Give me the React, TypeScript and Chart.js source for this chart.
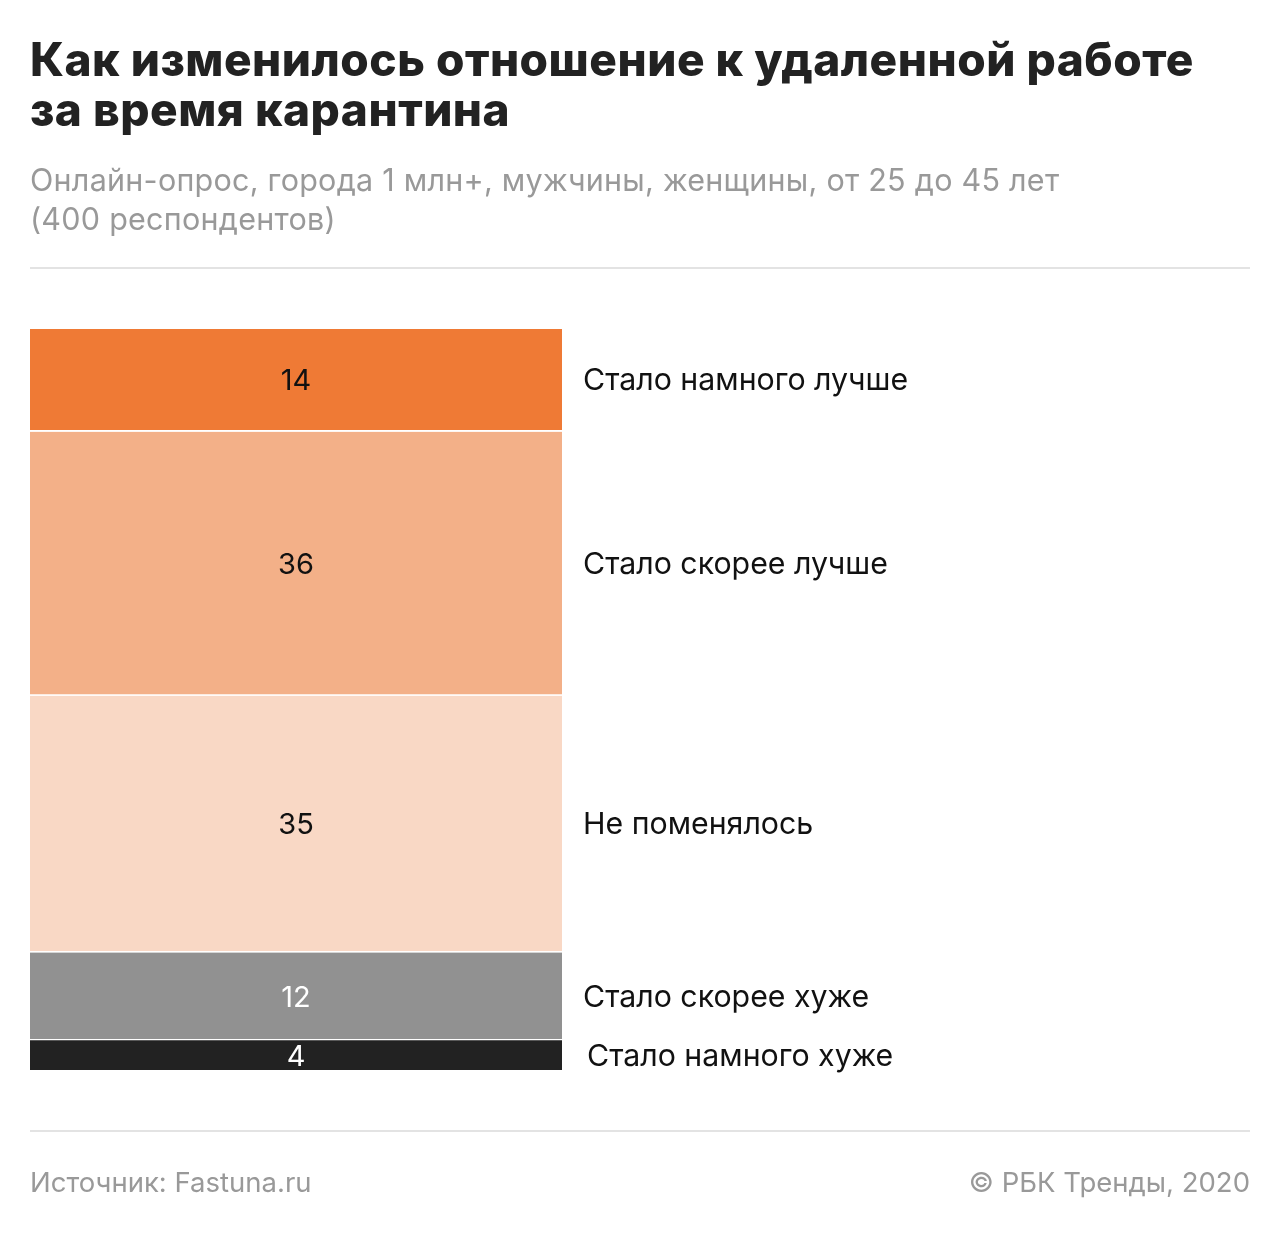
import React, { useEffect, useRef } from "react";
import { Chart, registerables } from "chart.js";

Chart.register(...registerables);

const categories = ["Стало намного хуже", "Стало скорее хуже", "Не поменялось", "Стало скорее лучше", "Стало намного лучше"];
const values = [4, 12, 35, 36, 14];
const colors = ["#222222", "#919191", "#F9D8C5", "#F3B088", "#EF7A35"];
const valueColors = ["#ffffff", "#ffffff", "#111111", "#111111", "#111111"];
const labelOffsets = [25, 21, 21, 21, 21];

const FONT = "Inter, Roboto, 'Noto Sans', sans-serif";

const labelPlugin = {
  id: "segLabels",
  afterDatasetsDraw(chart: any) {
    const ctx = chart.ctx;
    ctx.save();
    chart.data.datasets.forEach((ds: any, i: number) => {
      const el = chart.getDatasetMeta(i).data[0] as any;
      if (!el) return;
      const top = Math.min(el.y, el.base);
      const bottom = Math.max(el.y, el.base);
      const cy = (top + bottom) / 2 + (i === 0 ? 0 : -1);
      const by = cy + 11;
      ctx.textBaseline = "alphabetic";
      ctx.font = `29px ${FONT}`;
      ctx.fillStyle = valueColors[i];
      ctx.textAlign = "center";
      ctx.fillText(String(values[i]), el.x, by);
      ctx.fillStyle = "#111111";
      ctx.textAlign = "left";
      ctx.font = `30.3px ${FONT}`;
      ctx.fillText(categories[i], chart.chartArea.right + labelOffsets[i], by);
    });
    ctx.restore();
  },
};

export default function App() {
  const ref = useRef<HTMLCanvasElement | null>(null);
  useEffect(() => {
    if (!ref.current) return;
    const chart = new Chart(ref.current, {
      type: "bar",
      data: {
        labels: [""],
        datasets: values.map((v, i) => ({
          label: categories[i],
          data: [v],
          backgroundColor: colors[i],
          borderColor: "#ffffff",
          borderWidth: i === 0 ? 0 : { top: 0, bottom: 2, left: 0, right: 0 },
          borderSkipped: false,
          barPercentage: 1,
          categoryPercentage: 1,
        })),
      },
      options: {
        animation: false,
        responsive: false,
        maintainAspectRatio: false,
        layout: { padding: { left: 30, top: 329, right: 718, bottom: 164 } },
        plugins: { legend: { display: false }, tooltip: { enabled: false } },
        scales: {
          x: { stacked: true, display: false },
          y: { stacked: true, display: false, min: 0, max: 101 },
        },
      },
      plugins: [labelPlugin],
    });
    return () => chart.destroy();
  }, []);

  return (
    <div style={{ position: "absolute", left: 0, top: 0, width: 1280, height: 1234, background: "#fff", fontFamily: FONT, overflow: "hidden" }}>
      <canvas ref={ref} width={1280} height={1234} style={{ position: "absolute", left: 0, top: 0, width: 1280, height: 1234 }} />
      <div style={{ position: "absolute", left: 30, top: 34, fontWeight: 800, fontSize: 46, lineHeight: "50px", color: "#222", letterSpacing: 0.5, whiteSpace: "nowrap" }}>
        Как изменилось отношение к удаленной работе<br />за время карантина
      </div>
      <div style={{ position: "absolute", left: 30, top: 160, fontSize: 30.5, lineHeight: "39px", color: "#999", letterSpacing: 0.25, whiteSpace: "nowrap" }}>
        Онлайн-опрос, города 1 млн+, мужчины, женщины, от 25 до 45 лет<br />(400 респондентов)
      </div>
      <div style={{ position: "absolute", left: 30, top: 267, width: 1220, height: 2, background: "#e3e3e3" }} />
      <div style={{ position: "absolute", left: 30, top: 1130, width: 1220, height: 2, background: "#e3e3e3" }} />
      <div style={{ position: "absolute", left: 30, top: 1164, fontSize: 27.5, lineHeight: "36px", color: "#999", whiteSpace: "nowrap" }}>Источник: Fastuna.ru</div>
      <div style={{ position: "absolute", right: 30, top: 1164, fontSize: 27.5, lineHeight: "36px", color: "#999", whiteSpace: "nowrap" }}>© РБК Тренды, 2020</div>
    </div>
  );
}
